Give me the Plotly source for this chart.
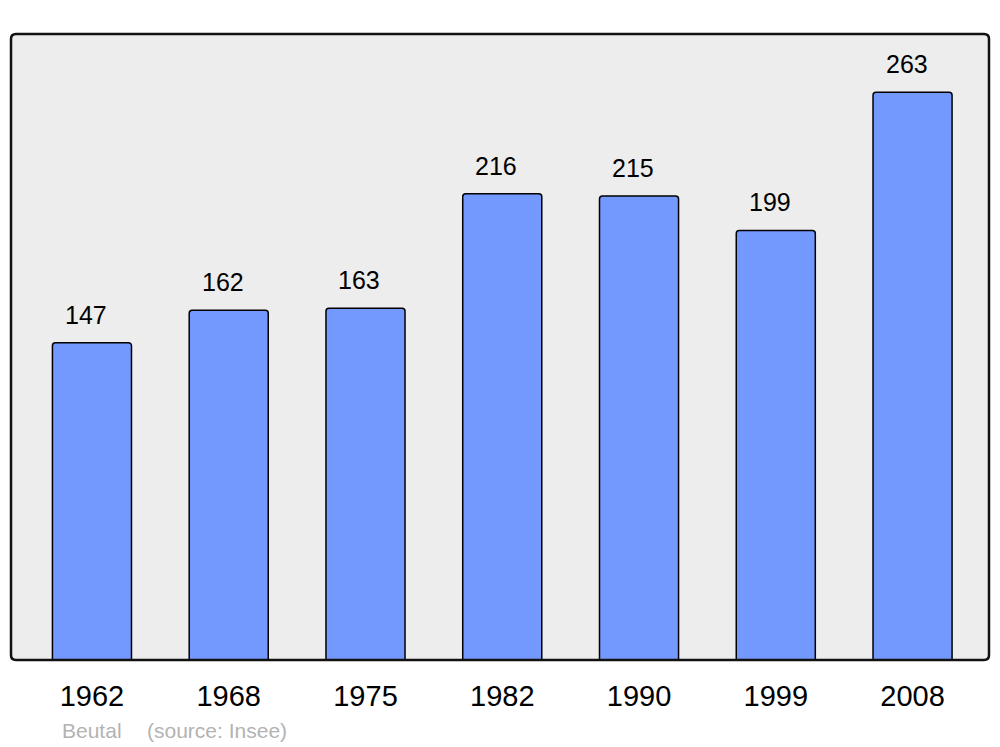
import plotly.graph_objects as go

years = ["1962", "1968", "1975", "1982", "1990", "1999", "2008"]
population = [147, 162, 163, 216, 215, 199, 263]
footer_name = "Beutal"
footer_source = "(source: Insee)"

W, H = 1000, 747
ml, mr, mt, mb = 11, 11, 34, 87
pw, ph = W - ml - mr, H - mt - mb
FONT = "Liberation Sans, Arial, sans-serif"

fig = go.Figure()
fig.add_trace(go.Bar(
    x=years, y=population, width=0.578,
    marker=dict(color="#7399ff", line=dict(color="#000000", width=1.5), cornerradius=3),
    hoverinfo="x+y",
))

for i, v in enumerate(population):
    fig.add_annotation(x=i, y=v, xref="x", yref="y", text=str(v), showarrow=False,
                       yanchor="bottom", yshift=12, xshift=-6,
                       font=dict(size=25, color="#000000", family=FONT))

# rounded frame around the plot area
r = 5
rx, ry = r / pw, r / ph
path = (f"M {rx},0 L {1-rx},0 Q 1,0 1,{ry} L 1,{1-ry} Q 1,1 {1-rx},1 "
        f"L {rx},1 Q 0,1 0,{1-ry} L 0,{ry} Q 0,0 {rx},0 Z")
fig.add_shape(type="path", xref="paper", yref="paper", path=path,
              line=dict(color="#111111", width=2.5), layer="above")

fy = -(730 - mt - ph) / ph
fig.add_annotation(xref="paper", yref="paper", x=(60 - ml) / pw, y=fy,
                   xanchor="left", yanchor="middle", showarrow=False, text=footer_name,
                   font=dict(size=21, color="#b3b3b3", family=FONT))
fig.add_annotation(xref="paper", yref="paper", x=(145 - ml) / pw, y=fy,
                   xanchor="left", yanchor="middle", showarrow=False, text=footer_source,
                   font=dict(size=21, color="#b3b3b3", family=FONT))

fig.update_layout(
    width=W, height=H,
    margin=dict(l=ml, r=mr, t=mt, b=mb),
    paper_bgcolor="#ffffff", plot_bgcolor="#ededed",
    showlegend=False,
    font=dict(family=FONT, color="#000000"),
    xaxis=dict(type="category", range=[-0.592, 6.559], showgrid=False, zeroline=False,
               showline=False, ticks="outside", ticklen=10, tickcolor="rgba(0,0,0,0)",
               tickfont=dict(size=29, color="#000000"), fixedrange=True),
    yaxis=dict(range=[0, 290], visible=False, showgrid=False, zeroline=False, fixedrange=True),
)

fig.write_html("out.html", config={"displayModeBar": False},
               post_script="document.body.style.margin='0';")
